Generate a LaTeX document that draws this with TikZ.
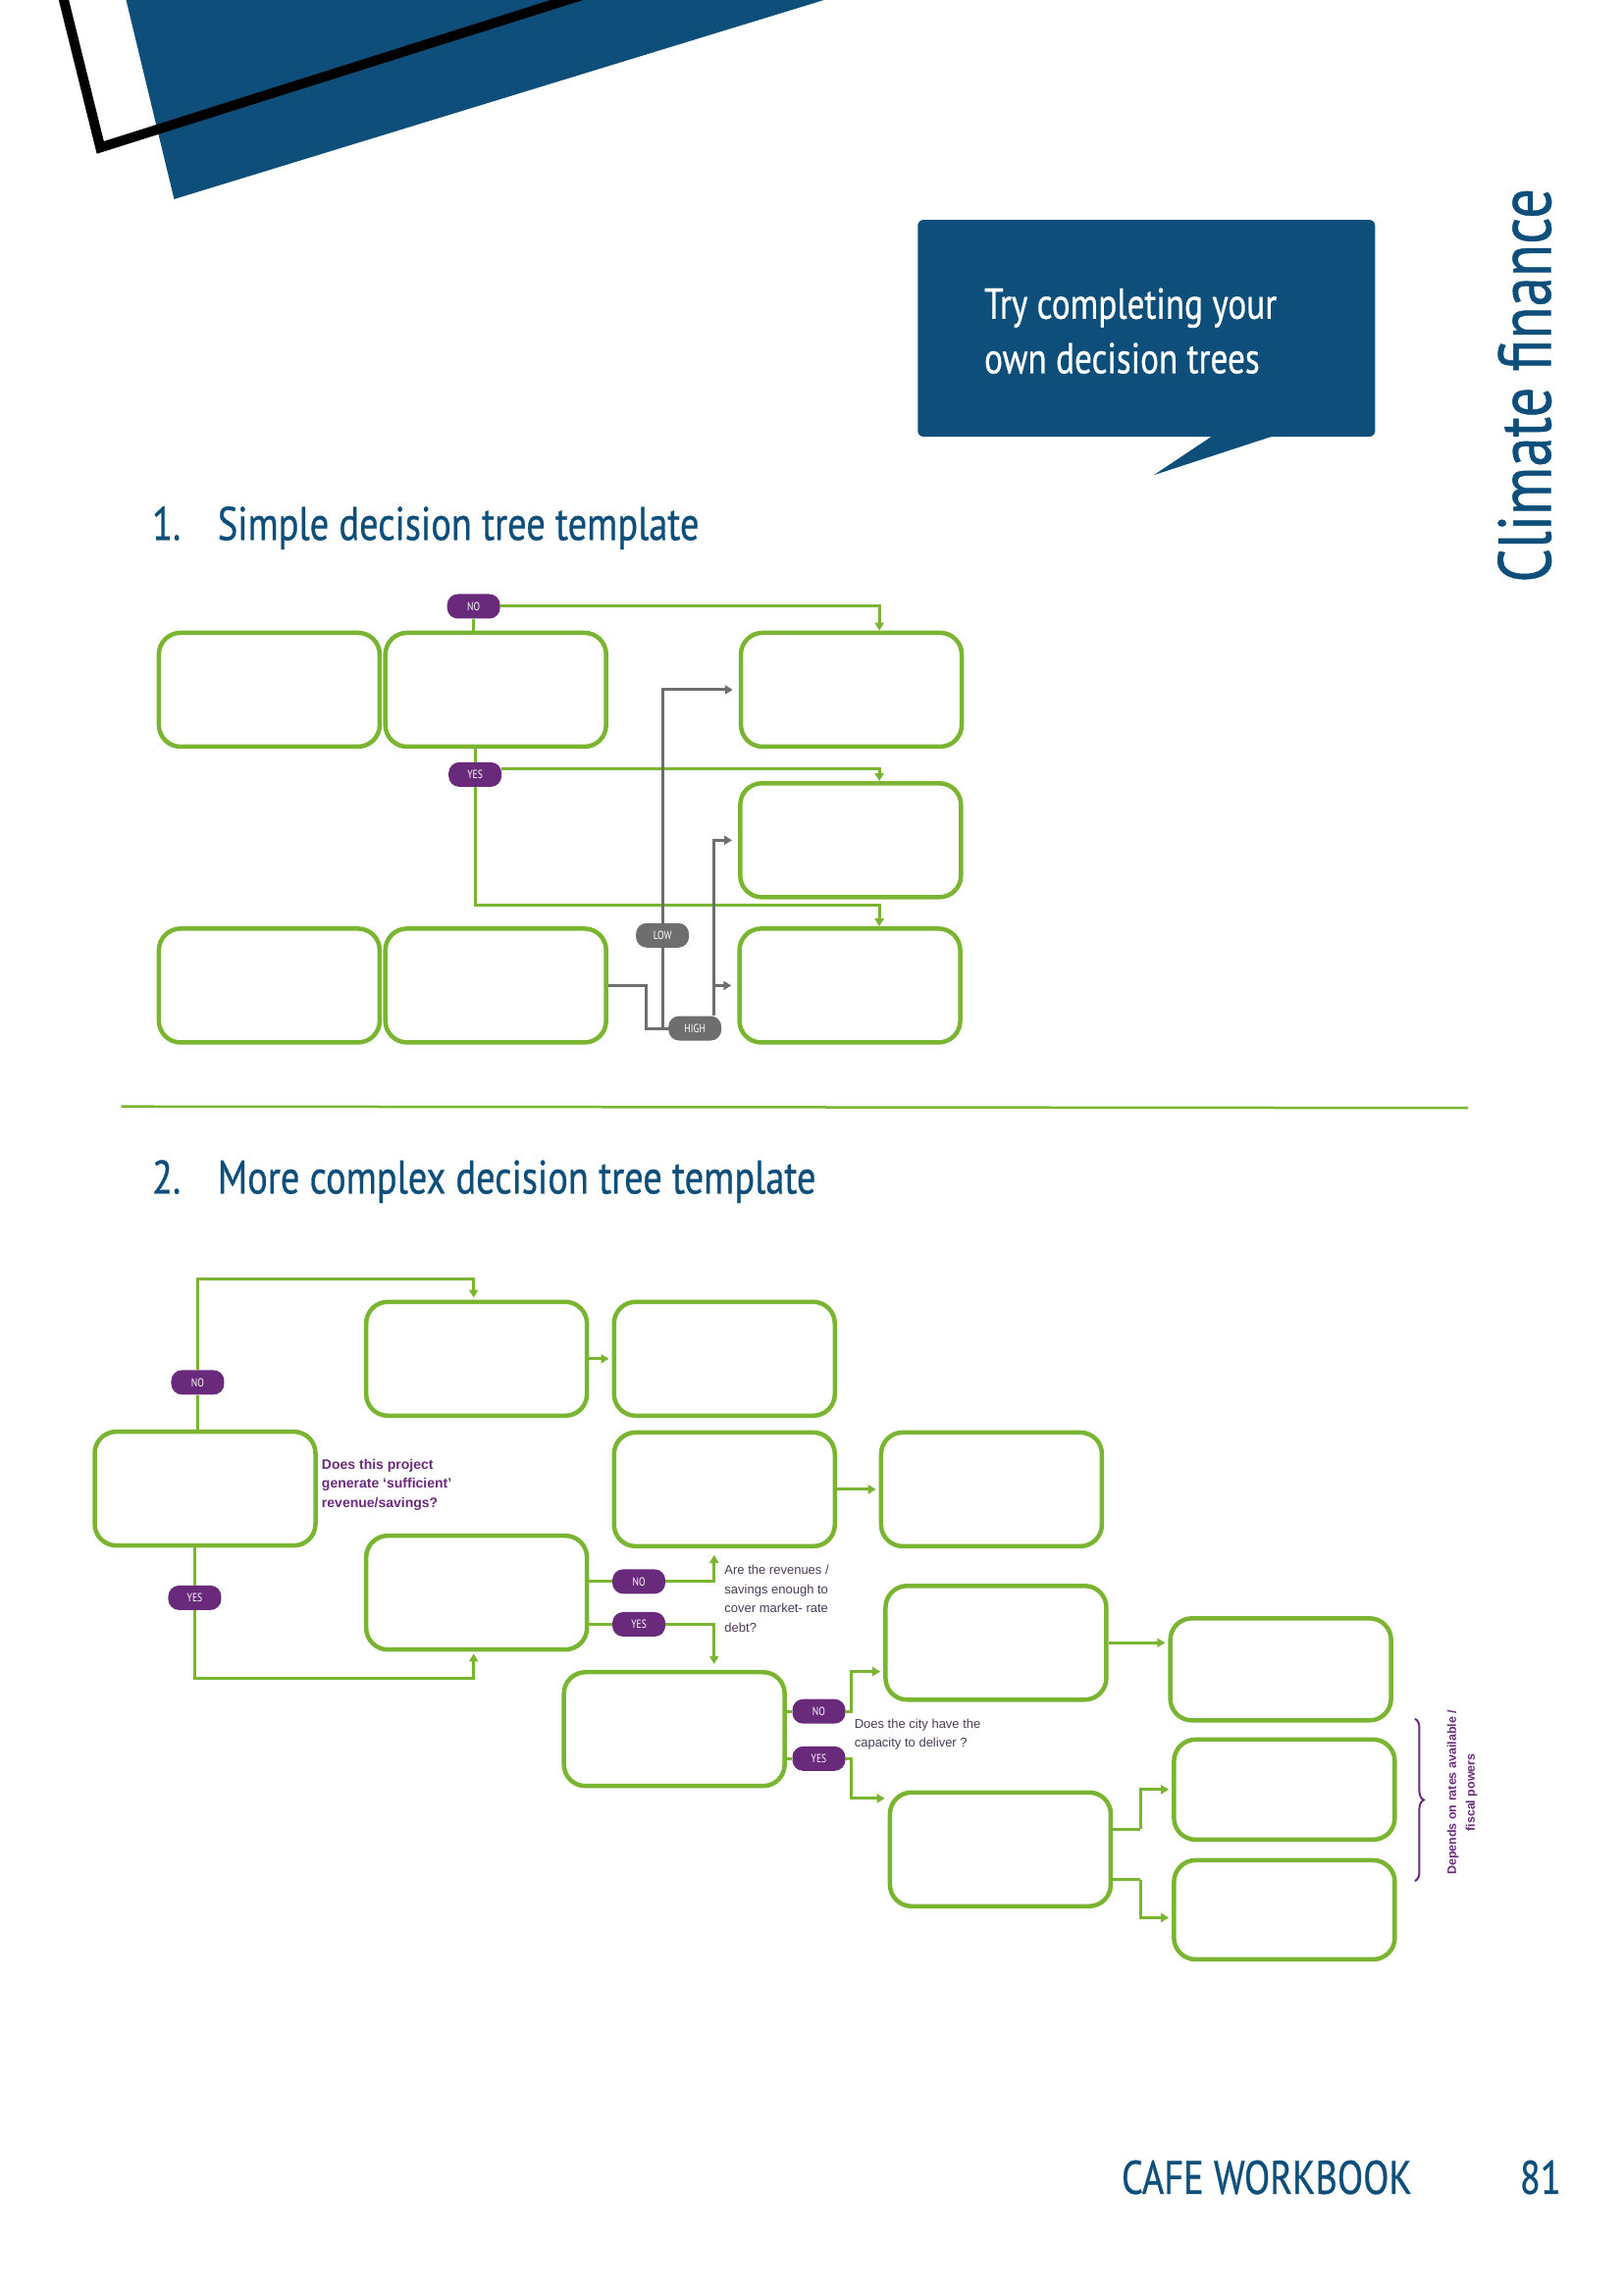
\documentclass[tikz,border=0pt]{standalone}
\usepackage{fontspec}
\setmainfont{PT Sans}
\newfontfamily\cond[FakeStretch=0.8,FakeBold=0.6]{PT Sans}
\newfontfamily\condl[FakeStretch=0.8]{PT Sans}
\newfontfamily\qf{Liberation Sans}
\usetikzlibrary{arrows.meta,decorations.pathreplacing,calc}
\definecolor{gr}{HTML}{7AB531}
\definecolor{pu}{HTML}{6A2A7C}
\definecolor{gy}{HTML}{6E6E6E}
\definecolor{bl}{HTML}{0D4F7A}
\definecolor{qt}{HTML}{4A3A55}
\begin{document}
\begin{tikzpicture}[x=1.5036pt,y=-1.5036pt,
  box/.style={draw=gr,line width=4.5pt,rounded corners=22pt,minimum width=225pt,minimum height=116pt,inner sep=0pt},
  pill/.style={fill=#1,rounded corners=11pt,minimum width=54pt,minimum height=25pt,inner sep=0pt,text=white,font=\condl\fontsize{12}{12}\selectfont},
  gl/.style={draw=gr,line width=3pt},
  ga/.style={gl,-{Triangle[length=8pt,width=9pt]}},
  gyl/.style={draw=gy,line width=3pt},
  gya/.style={gyl,-{Triangle[length=8pt,width=9pt]}},
  ttl/.style={text=bl,font=\cond\fontsize{48}{48}\selectfont,anchor=base west,inner sep=0pt},
  q/.style={anchor=north west,align=left,font=\qf\fontsize{13}{19.5}\selectfont,inner sep=0pt}]
\useasboundingbox (0,0) rectangle (1100.04,1555.6);
% top decoration
\fill[bl] (85,-2) -- (565,-2) -- (118,135) -- cycle;
\draw[black,line width=10pt,line join=miter] (42,-5) -- (68,100) -- (400,-5);
% callout
\fill[bl,rounded corners=6pt] (622,149) rectangle (932,296);
\fill[bl] (830,290) -- (782,322) -- (880,290) -- cycle;
\node[anchor=base west,text=white,font=\cond\fontsize{44}{44}\selectfont,inner sep=0pt] (call1) at (667,216) {Try completing your};
\node[anchor=base west,text=white,font=\cond\fontsize{44}{44}\selectfont,inner sep=0pt] (call2) at (667,253) {own decision trees};
\node[rotate=90,anchor=base west,text=bl,font=\cond\fontsize{76}{76}\selectfont,inner sep=0pt] (side) at (1051,395) {Climate finance};
% titles
\node[ttl] (t1) at (103,366) {1.\hspace{0.5em} Simple decision tree template};
\node[ttl] (t2) at (103,809) {2.\hspace{0.5em} More complex decision tree template};
\draw[gr,line width=2.5pt] (82,750) -- (995,751);
% section 1
\node[box] (A) at (182.5,467.5) {};
\node[box] (B) at (336,467.5) {};
\node[box] (C) at (577,467.5) {};
\node[box] (D) at (576.5,569.5) {};
\node[box] (E) at (576,668) {};
\node[box] (F) at (182.5,668) {};
\node[box] (G) at (336,668) {};
\node[pill=pu] (NO) at (321,411) {NO};
\node[pill=pu] (YES) at (322,525) {YES};
\draw[gl] (NO.south) -- (NO.south |- B.north);
\draw[ga] (NO.east) -| ([xshift=28.6pt]C.north);
\draw[gl] (YES.north) -- (YES.north |- B.south);
\draw[ga] ([yshift=6pt]YES.east) -| ([xshift=29.3pt]D.north);
\draw[ga] (YES.south) |- ([xshift=30pt,yshift=22pt]E.north) -- ([xshift=30pt]E.north);
\node[pill=gy] (LOW) at (449,634) {LOW};
\node[pill=gy] (HIGH) at (471,697) {HIGH};
\coordinate (g1) at (438,668);
\draw[gyl] (G.east) -- (g1) |- (HIGH.west);
\draw[gya] (LOW.north) |- ([xshift=-6pt]C.west);
\draw[gyl] (LOW.south) -- (LOW.south |- HIGH.west);
\coordinate (h) at ([xshift=19.5pt]HIGH.north);
\draw[gya] (h) |- ([xshift=-6pt]D.west);
\draw[gya] (h |- E.west) -- ([xshift=-6pt]E.west);
% section 2
\node[box] (B1) at (139,1009) {};
\node[box] (B2) at (323,921) {};
\node[box] (B3) at (491,921) {};
\node[box] (B4) at (491,1009.5) {};
\node[box] (B5) at (672,1009.5) {};
\node[box] (B6) at (323,1079.5) {};
\node[box] (B7) at (457,1172) {};
\node[box] (B8) at (675,1113.5) {};
\node[box,minimum height=104pt] (B9) at (868,1131.5) {};
\node[box] (B10) at (678,1253.5) {};
\node[box,minimum height=102pt] (B11) at (870.5,1213) {};
\node[box,minimum height=101pt] (B12) at (870.5,1294.5) {};
\node[pill=pu] (NO2) at (134,937) {NO};
\node[pill=pu] (YES2) at (132,1083) {YES};
\draw[gl] (NO2.south) -- (NO2.south |- B1.north);
\draw[ga] (NO2.north) |- ([xshift=-3pt,yshift=21pt]B2.north) -- ([xshift=-3pt,yshift=2pt]B2.north);
\draw[gl] (YES2.north) -- (YES2.north |- B1.south);
\draw[ga] (YES2.south) |- ([xshift=-3pt,yshift=-27pt]B6.south) -- ([xshift=-3pt,yshift=-2pt]B6.south);
\draw[ga] (B2.east) -- ([xshift=-3pt]B3.west);
\draw[ga] (B4.east) -- ([xshift=-3pt]B5.west);
\draw[ga] (B8.east) -- ([xshift=-3pt]B8.east -| B9.west);
\node[pill=pu] (NO3) at (433,1072) {NO};
\node[pill=pu] (YES3) at (433,1101) {YES};
\draw[gl] (B6.east |- NO3) -- (NO3.west);
\draw[gl] (B6.east |- YES3) -- (YES3.west);
\coordinate (q1) at (484,1054);
\draw[ga] (NO3.east) -| (q1);
\draw[ga] (YES3.east) -| ([xshift=40.6pt,yshift=6pt]B7.north);
\node[pill=pu] (NO4) at (555,1160) {NO};
\node[pill=pu] (YES4) at (555,1192) {YES};
\draw[gl] (B7.east |- NO4) -- (NO4.west);
\draw[gl] (B7.east |- YES4) -- (YES4.west);
\coordinate (k4) at (577,1160);
\coordinate (k5) at (577,1192);
\draw[ga] (NO4.east) -- (k4) |- ([xshift=-3pt,yshift=-29.3pt]B8.west);
\draw[ga] (YES4.east) -- (k5) |- ([xshift=-3pt,yshift=51.9pt]B10.west);
\coordinate (k10) at (773,1240);
\coordinate (k10b) at (773,1274);
\draw[gl] (B10.east |- k10) -- (k10);
\draw[ga] (k10) |- ([xshift=-3pt]B11.west);
\draw[gl] (B10.east |- k10b) -- (k10b);
\draw[ga] (k10b) |- ([xshift=-3pt,yshift=-8pt]B12.west);
% brace
\coordinate (br1) at (959,1165);
\coordinate (br2) at (959,1275);
\draw[pu,line width=2pt,decorate,decoration={brace,amplitude=9pt}] (br1) -- (br2);
\node[rotate=90,align=center,text=pu,font=\qf\bfseries\fontsize{12.5}{19}\selectfont,inner sep=0pt] (dep) at (991,1215) {Depends on rates available /\\fiscal powers};
% question texts
\node[q,text=pu,font=\qf\bfseries\fontsize{14}{19.5}\selectfont] (q1t) at (218,989) {Does this project\\generate ‘sufficient’\\revenue/savings?};
\node[q,text=qt] (q2t) at (491,1061) {Are the revenues /\\savings enough to\\cover market- rate\\debt?};
\node[q,text=qt] (q3t) at (579,1165) {Does the city have the\\capacity to deliver ?};
% footer
\node[anchor=base west,text=bl,font=\cond\fontsize{48}{48}\selectfont,inner sep=0pt] (cafe) at (760,1487) {CAFE WORKBOOK};
\node[anchor=base west,text=bl,font=\cond\fontsize{48}{48}\selectfont,inner sep=0pt] (pg) at (1030,1487) {81};
\end{tikzpicture}
\end{document}
